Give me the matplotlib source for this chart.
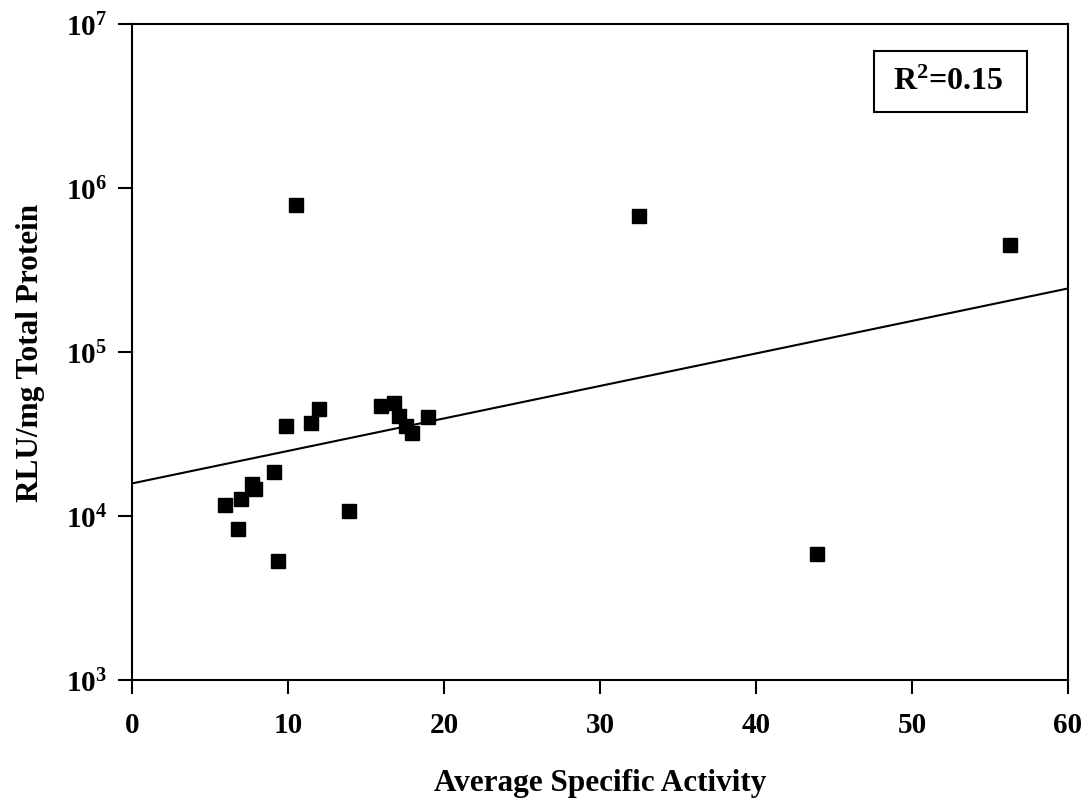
import numpy as np
import matplotlib
matplotlib.use("Agg")
import matplotlib.pyplot as plt
from matplotlib.patches import Rectangle
from matplotlib.ticker import FixedLocator, FuncFormatter, NullLocator

plt.rcParams['font.family'] = ['Liberation Serif', 'DejaVu Serif']
plt.rcParams['font.weight'] = 'bold'
plt.rcParams['mathtext.fontset'] = 'custom'
plt.rcParams['mathtext.rm'] = 'Liberation Serif:bold'
plt.rcParams['mathtext.bf'] = 'Liberation Serif:bold'
plt.rcParams['mathtext.it'] = 'Liberation Serif:bold'

# 数据点 (Average Specific Activity, RLU/mg Total Protein)
activity = [5.99, 6.99, 7.69, 7.91, 6.78, 9.08, 9.38, 9.90, 10.49, 11.50,
            11.99, 13.89, 15.99, 16.80, 17.10, 17.59, 17.97, 19.00, 32.48,
            43.89, 56.28]
rlu = [11700, 12700, 15700, 14600, 8300, 18600, 5340, 35200, 784000, 36800,
       44800, 10700, 46600, 48900, 40500, 35500, 32100, 40300, 678000,
       5840, 449000]

# 趋势线端点
trend_x = [0, 60]
trend_y = [15800, 244000]
r2_text = r'R$^{2}$=0.15'

fig = plt.figure(figsize=(10.89, 8.03), dpi=100)
ax = fig.add_axes([0.1212, 0.1519, 0.8595, 0.8170])

ax.plot(trend_x, trend_y, color='black', linewidth=1.5)
ax.plot(activity, rlu, linestyle='none', marker='s', markersize=10.5,
        color='black', markeredgecolor='black')

ax.set_yscale('log')
ax.set_xlim(0, 60)
ax.set_ylim(1e3, 1e7)
ax.set_xticks([0, 10, 20, 30, 40, 50, 60])
ax.yaxis.set_major_locator(FixedLocator([1e3, 1e4, 1e5, 1e6, 1e7]))
ax.yaxis.set_minor_locator(NullLocator())
ax.yaxis.set_major_formatter(FuncFormatter(
    lambda v, p: r'10$^{%d}$' % round(np.log10(v))))

for s in ax.spines.values():
    s.set_linewidth(1.5)
ax.tick_params(axis='both', direction='out', length=10, width=1.5,
               labelsize=21, pad=8)
ax.tick_params(axis='x', pad=12)

ax.set_xlabel('Average Specific Activity', fontsize=22.5, fontweight='bold',
              labelpad=22)
ax.set_ylabel('RLU/mg Total Protein', fontsize=22.5, fontweight='bold',
              labelpad=15)

# R² 文本框
ax.add_patch(Rectangle((0.7927, 0.8659), 0.1635, 0.0929,
                       transform=ax.transAxes, facecolor='white',
                       edgecolor='black', linewidth=1.5, zorder=5))
ax.text(0.8723, 0.913, r2_text, transform=ax.transAxes, fontsize=23,
        fontweight='bold', ha='center', va='center', zorder=6)

fig.savefig('out.png', dpi=100)
